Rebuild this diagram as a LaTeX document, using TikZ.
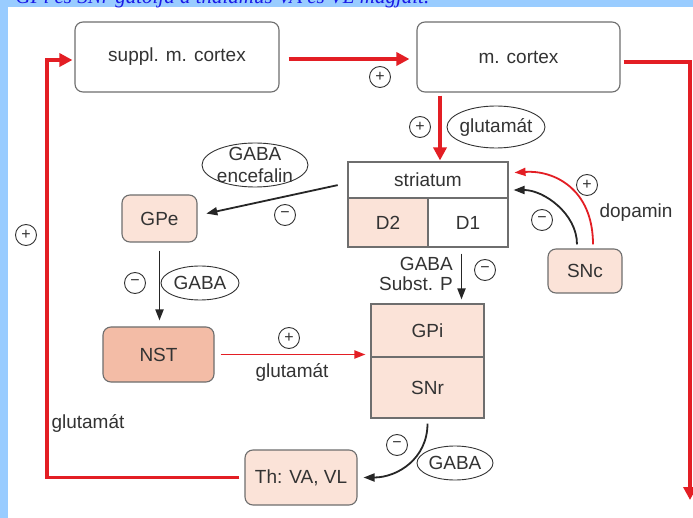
\documentclass[tikz,border=0pt]{standalone}
\usepackage{fontspec}
\setmainfont{Liberation Sans}
\newfontfamily\titlefont{Liberation Serif}
\usetikzlibrary{arrows.meta,shapes.geometric}
\definecolor{txt}{HTML}{333333}
\definecolor{bord}{HTML}{6E6E6E}
\definecolor{pinkl}{HTML}{FBE3D8}
\definecolor{pinkd}{HTML}{F3BCA6}
\definecolor{redl}{HTML}{E31E24}
\definecolor{bgblue}{HTML}{99CCFF}
\definecolor{titleblue}{HTML}{1A1AE6}
\begin{document}
\begin{tikzpicture}[x=1pt,y=-1pt,
  every node/.style={text=txt, font=\fontsize{19}{19}\selectfont},
  rbox/.style={draw=bord, line width=1.1pt, rounded corners=8pt, inner sep=0pt},
  sbox/.style={draw=bord, line width=1.1pt, inner sep=0pt},
  sign/.style={circle, draw=txt, line width=0.9pt, minimum size=21pt, inner sep=0pt, font=\fontsize{16}{16}\selectfont},
  ovaldraw/.style={draw=txt, line width=0.9pt},
  thickred/.style={draw=redl, line width=3.6pt, -{Triangle[length=13pt,width=13pt]}},
  redarr/.style={draw=redl, line width=1.8pt, -{Triangle[length=11pt,width=8pt]}},
  blackarr/.style={draw=black!85, line width=1.8pt, -{Triangle[length=11pt,width=8pt]}}
]
\useasboundingbox (0,0) rectangle (693,518);
\fill[bgblue] (0,0) rectangle (693,518);
\fill[white] (8,7.5) rectangle (693,518);
\begin{scope}
\clip (0,0) rectangle (693,7.5);
\node[anchor=base west, text=titleblue, font=\titlefont\itshape\fontsize{21}{21}\selectfont] (title) at (12,4) {GPi és SNr gátolja a thalamus VA és VL magjait.};
\end{scope}

% boxes
\node[rbox, minimum width=204pt, minimum height=70pt] (smc) at (177,57) {suppl. m. cortex};
\node[rbox, minimum width=203pt, minimum height=70pt] (mc) at (518.5,57) {m. cortex};
\node[sbox, minimum width=160pt, minimum height=36pt] (st) at (428,180) {striatum};
\node[sbox, fill=pinkl, minimum width=80pt, minimum height=49pt] (d2) at (388,222.5) {D2};
\node[sbox, minimum width=80pt, minimum height=49pt] (d1) at (468,222.5) {D1};
\node[sbox, fill=pinkl, minimum width=113pt, minimum height=53pt] (gpi) at (427.5,330.5) {GPi};
\node[sbox, fill=pinkl, minimum width=113pt, minimum height=61pt] (snr) at (427.5,387.5) {SNr};
\node[rbox, fill=pinkl, minimum width=74pt, minimum height=44pt] (snc) at (585,271) {SNc};
\node[rbox, fill=pinkl, minimum width=75pt, minimum height=47pt] (gpe) at (159.5,218.5) {GPe};
\node[rbox, fill=pinkd, minimum width=111pt, minimum height=55pt] (nst) at (158.5,354.5) {NST};
\node[rbox, fill=pinkl, minimum width=112pt, minimum height=55pt] (th) at (301,477.5) {Th: VA, VL};

% labels
\node (dop) at (636,213) {dopamin};
\node[align=right] (gsp) at (416,274) {GABA\\[1pt]Subst. P};
\node (glu2) at (292,372) {glutamát};
\node[anchor=west] (glu3) at (48,423) {glutamát};

% ellipses
\node (e1) at (496,127) {glutamát};
\draw[ovaldraw] (e1.center) ellipse [x radius=49, y radius=21];
\node[align=center] (e2) at (255,165) {GABA\\[3pt]encefalin};
\draw[ovaldraw] (e2.center) ellipse [x radius=53, y radius=22];
\node (e3) at (200,283) {GABA};
\draw[ovaldraw] (e3.center) ellipse [x radius=39, y radius=17];
\node (e4) at (455,463) {GABA};
\draw[ovaldraw] (e4.center) ellipse [x radius=38, y radius=17];

% signs
\node[sign] (s1) at (380,77) {+};
\node[sign] (s2) at (420,127) {+};
\node[sign] (s3) at (285,215) {−};
\node[sign] (s4) at (135,283) {−};
\node[sign] (s5) at (485,270) {−};
\node[sign] (s6) at (542,220) {−};
\node[sign] (s7) at (587,185) {+};
\node[sign] (s8) at (289,338) {+};
\node[sign] (s9) at (397,445) {−};
\node[sign] (s10) at (26,235) {+};

% connectors
\draw[thickred, shorten <=9pt, shorten >=7pt] ([yshift=-2pt]smc.east) -- ([yshift=-2pt]mc.west);
\coordinate (a1) at ([xshift=12pt]st.north);
\draw[thickred, shorten <=3pt, shorten >=1pt] (a1 |- mc.south) -- (a1);
\coordinate (rend) at (690,500);
\draw[thickred, shorten <=3pt] ([yshift=-5pt]mc.east) -| (rend);
\coordinate (lc) at (47,477.5);
\draw[thickred, shorten <=5pt, shorten >=2pt] (th.west) -- (lc) |- ([yshift=-3pt]smc.west);

\draw[blackarr, shorten <=10pt, shorten >=9pt] ([yshift=-3pt]st.west) -- ([yshift=3pt]gpe.east);
\draw[blackarr, shorten <=8pt, shorten >=6pt] (gpe.south) -- (gpe.south |- nst.north);
\coordinate (a2) at ([xshift=34pt]gpi.north);
\draw[blackarr, shorten <=6pt, shorten >=4pt] (a2 |- d1.south) -- (a2);
\draw[redarr, shorten <=6pt, shorten >=5pt] (nst.east) -- (nst.east -| gpi.west);
\draw[blackarr, shorten <=5pt, shorten >=6pt] (snr.south) .. controls +(0,40) and +(40,0) .. (th.east);
\draw[blackarr, shorten <=4pt, shorten >=5pt] ([xshift=-8pt]snc.north) .. controls +(0,-35) and +(35,0) .. ([yshift=-10pt]st.east);
\draw[redarr, shorten <=4pt, shorten >=6pt] ([xshift=8pt]snc.north) .. controls +(0,-60) and +(45,-3) .. ([yshift=7pt]st.east);
\end{tikzpicture}
\end{document}
